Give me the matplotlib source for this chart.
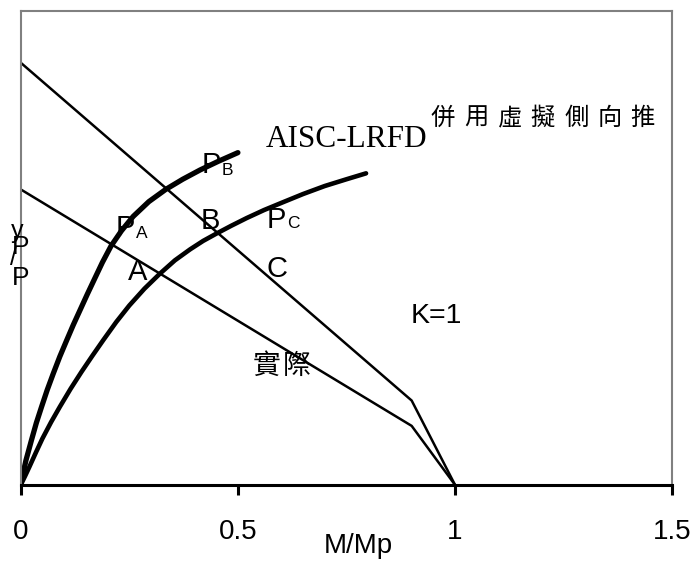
import matplotlib
matplotlib.use('Agg')
import matplotlib.pyplot as plt

# 相互作用曲線 (P/Py vs M/Mp)
aisc_x = [0, 0.9, 1.0]
aisc_y = [1.0, 0.2, 0.0]

actual_x = [0, 0.9, 1.0]
actual_y = [0.70, 0.14, 0.0]

# 載重路徑曲線
path1_x = [0, 0.006, 0.012, 0.025, 0.036, 0.048, 0.061, 0.075, 0.09, 0.106, 0.121, 0.137,
           0.153, 0.17, 0.188, 0.208, 0.232, 0.259, 0.295, 0.334, 0.373, 0.413, 0.456, 0.5]
path1_y = [0, 0.03, 0.058, 0.107, 0.147, 0.185, 0.225, 0.264, 0.304, 0.343, 0.379, 0.415,
           0.451, 0.488, 0.527, 0.566, 0.602, 0.636, 0.671, 0.70, 0.724, 0.746, 0.767, 0.787]

path2_x = [0, 0.01, 0.02, 0.035, 0.05, 0.07, 0.09, 0.115, 0.14, 0.165, 0.19, 0.22, 0.25, 0.285,
           0.32, 0.355, 0.39, 0.42, 0.45, 0.485, 0.52, 0.56, 0.6, 0.65, 0.7, 0.75, 0.795]
path2_y = [0, 0.021, 0.043, 0.077, 0.11, 0.149, 0.185, 0.228, 0.268, 0.306, 0.343, 0.386, 0.425, 0.465,
           0.50, 0.532, 0.558, 0.578, 0.595, 0.614, 0.632, 0.651, 0.668, 0.689, 0.708, 0.724, 0.738]

x_ticks = [0, 0.5, 1, 1.5]
x_tick_labels = ['0', '0.5', '1', '1.5']

plt.rcParams['font.family'] = ['Liberation Sans', 'DejaVu Sans']

W, H = 695, 566
fig = plt.figure(figsize=(W / 100, H / 100), dpi=100)
# 軸區域 (像素: 左 20.7, 右 672.3, 上 11, 下 485)
ax = fig.add_axes([20.7 / W, (H - 485) / H, (672.3 - 20.7) / W, (485 - 11) / H])

ax.plot(aisc_x, aisc_y, color='black', linewidth=1.8)
ax.plot(actual_x, actual_y, color='black', linewidth=1.8)
ax.plot(path1_x, path1_y, color='black', linewidth=3.8, solid_capstyle='round', solid_joinstyle='round')
ax.plot(path2_x, path2_y, color='black', linewidth=3.3, solid_capstyle='round', solid_joinstyle='round')

ax.set_xlim(0, 1.5)
ax.set_ylim(0, 1.1224)
ax.set_xticks(x_ticks)
ax.set_xticklabels(x_tick_labels, fontsize=20)
ax.set_yticks([])
ax.tick_params(axis='x', direction='out', length=7.2, width=2.2, pad=17, color='black')

for side in ['left', 'top', 'right']:
    ax.spines[side].set_color('#808080')
    ax.spines[side].set_linewidth(1.5)
ax.spines['bottom'].set_color('black')
ax.spines['bottom'].set_linewidth(2.2)

ax.set_xlabel('M/Mp', fontsize=20)
ax.xaxis.set_label_coords((358 - 20.7) / 651.6, -0.101)


def px(x, y):
    # 像素座標 -> 資料座標
    return (x - 20.7) / 434.4, (485 - y) / 422.3


def put(x, y, s, size, **kw):
    dx, dy = px(x, y)
    ax.text(dx, dy, s, fontsize=size, ha='center', va='center', **kw)


# 點標記
put(211, 165, 'P', 21)
put(227, 171, 'B', 12.5)
put(125, 228, 'P', 21)
put(141.5, 233.5, 'A', 12.5)
put(276, 220, 'P', 21)
put(293, 223.5, 'C', 12.5)
put(210.5, 221, 'B', 21)
put(276.7, 269, 'C', 21)
put(137.5, 272, 'A', 21)
put(436, 316.5, 'K=1', 20.5)

# y 軸標籤 (重疊堆疊)
put(17, 231, 'y', 18)
put(21, 247, 'P', 19)
put(13, 258, '/', 18)
put(21, 278, 'P', 19)

put(346.7, 140, 'AISC-LRFD', 22.5, family=['Liberation Serif'])

cjk = ['Noto Sans CJK TC', 'DejaVu Sans']
title_chars = list('併用虛擬側向推')
for i, ch in enumerate(title_chars):
    put(443 + i * 33.3, 118, ch, 17.5, family=cjk)

for i, ch in enumerate('實際'):
    put(267 + i * 30, 365.5, ch, 20, family=cjk)

fig.savefig('out.png', dpi=100)
